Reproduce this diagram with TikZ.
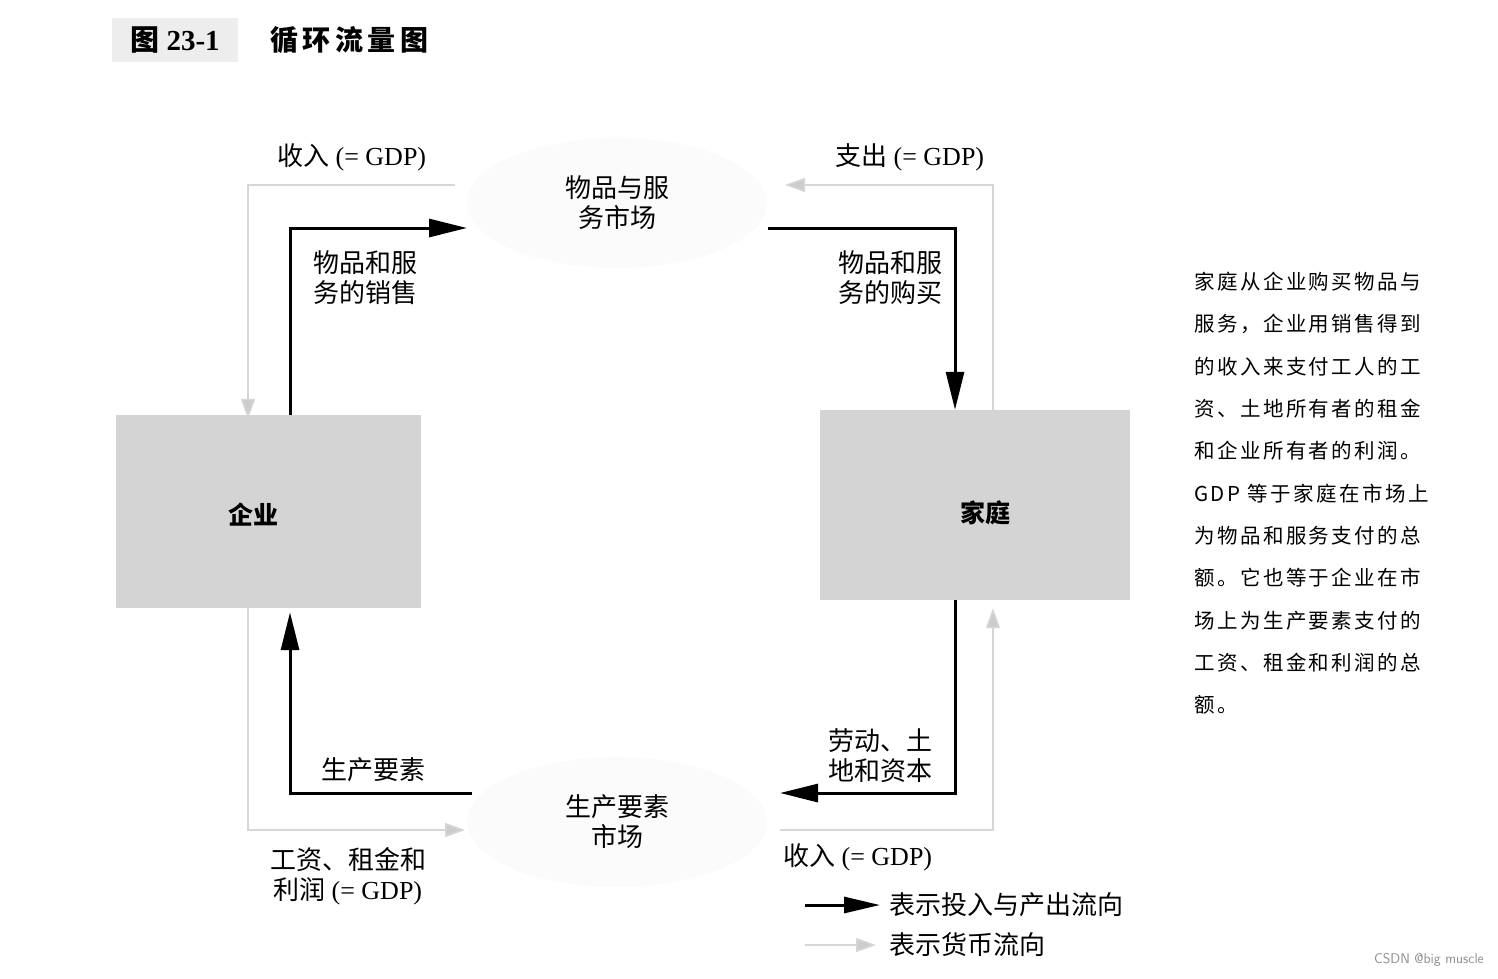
\documentclass[tikz,border=0pt]{standalone}
\usepackage{fontspec}
\setmainfont{Liberation Serif}
\newfontfamily\cjk{Noto Sans CJK SC}
\newfontfamily\cjkwide[LetterSpace=16]{Noto Sans CJK SC}
\newfontfamily\cjkbody[LetterSpace=12]{Noto Sans CJK SC}
\usetikzlibrary{arrows.meta,shapes.geometric}
\tikzset{
  box/.style={fill=black!17, draw=none},
  boxlab/.style={font=\fontsize{25}{30}\selectfont\cjk\bfseries, inner sep=0pt},
  lab/.style={font=\fontsize{26}{30}\selectfont\cjk, align=center, inner sep=0pt},
  market/.style={ellipse, fill=black!1.5, draw=none, minimum width=300pt, minimum height=130pt},
  flow/.style={line width=3pt, -{Triangle[length=38pt,width=18pt]}},
  money/.style={line width=1.6pt, draw=black!16, -{Triangle[length=20pt,width=14pt,fill=black!20]}},
}
\begin{document}
\begin{tikzpicture}[x=1pt,y=-1pt]
\useasboundingbox (0,0) rectangle (1498,978);
% title
\node[fill=black!7, minimum width=126pt, minimum height=44pt, inner sep=0pt,
      font=\fontsize{29}{30}\selectfont\bfseries] (tnum) at (175,40) {{\cjk\bfseries 图} 23-1};
\node[font=\fontsize{28}{30}\selectfont\cjkwide\bfseries, anchor=west, inner sep=0pt] (ttl) at (270,40) {循环流量图};
% markets
\node[market] (goods) at (617,203) {};
\node[lab] (goodsl) at (617,203) {物品与服\\务市场};
\node[market] (factor) at (617,822) {};
\node[lab] (factorl) at (617,822) {生产要素\\市场};
% boxes
\node[box, minimum width=305pt, minimum height=193pt] (firm) at (268.5,511.5) {};
\node[boxlab] (firml) at (253,515) {企业};
\node[box, minimum width=310pt, minimum height=190pt] (house) at (975,505) {};
\node[boxlab] (housel) at (985,513) {家庭};
% coordinates
\coordinate (b1) at (290,228); \coordinate (gIn) at (467,228);
\coordinate (gOut) at (768,228); \coordinate (b2) at (955,228);
\coordinate (b3) at (955,793); \coordinate (fIn) at (780,793);
\coordinate (fOut) at (472,793); \coordinate (b4) at (290,793);
\coordinate (m1) at (993,185); \coordinate (gInM) at (785,185);
\coordinate (gOutM) at (455,185); \coordinate (m2) at (248,185);
\coordinate (m3) at (248,830); \coordinate (fInM) at (465,830);
\coordinate (fOutM) at (780,830); \coordinate (m4) at (993,830);
% money flows
\draw[money] (m1 |- house.north) -- (m1) -- (gInM);
\draw[money] (gOutM) -- (m2) -- ([yshift=-4pt]m2 |- firm.north);
\draw[money] (m3 |- firm.south) -- (m3) -- (fInM);
\draw[money] (fOutM) -- (m4) -- ([yshift=-8pt]m4 |- house.south);
% goods / factor flows
\draw[flow] (b1 |- firm.north) -- (b1) -- (gIn);
\draw[flow] (gOut) -- (b2) -- (b2 |- house.north);
\draw[flow] (b3 |- house.south) -- (b3) -- (fIn);
\draw[flow] (fOut) -- (b4) -- ([yshift=-4pt]b4 |- firm.south);
% labels
\node[lab] (l1) at (365,278) {物品和服\\务的销售};
\node[lab] (l2) at (890,278) {物品和服\\务的购买};
\node[lab] (l3) at (880,756) {劳动、土\\地和资本};
\node[lab] (l4) at (373,770) {生产要素};
\node[lab] (l5) at (352,157) {收入 {\rmfamily (= GDP)}};
\node[lab] (l6) at (910,157) {支出 {\rmfamily (= GDP)}};
\node[lab] (l7) at (348,876) {工资、租金和\\利润 {\rmfamily (= GDP)}};
\node[lab] (l8) at (858,857) {收入 {\rmfamily (= GDP)}};
% legend
\coordinate (k1a) at (805,905); \coordinate (k1b) at (880,905);
\coordinate (k2a) at (805,945); \coordinate (k2b) at (876,945);
\draw[flow, -{Triangle[length=36pt,width=16pt]}] (k1a) -- (k1b);
\draw[money] (k2a) -- (k2b);
\node[lab, anchor=west] (k1) at (889,905) {表示投入与产出流向};
\node[lab, anchor=west] (k2) at (889,945) {表示货币流向};
% side text
\node[font=\fontsize{20.5}{42.3}\selectfont\cjkbody, align=left, anchor=north west, inner sep=0pt] (side) at (1194,272)
{家庭从企业购买物品与\\
服务，企业用销售得到\\
的收入来支付工人的工\\
资、土地所有者的租金\\
和企业所有者的利润。\\
GDP 等于家庭在市场上\\
为物品和服务支付的总\\
额。它也等于企业在市\\
场上为生产要素支付的\\
工资、租金和利润的总\\
额。};
% watermark
\node[font=\fontsize{14}{16}\selectfont\sffamily, text=black!45, anchor=east, inner sep=0pt] (wm) at (1484,960) {CSDN @big muscle};
\end{tikzpicture}
\end{document}
